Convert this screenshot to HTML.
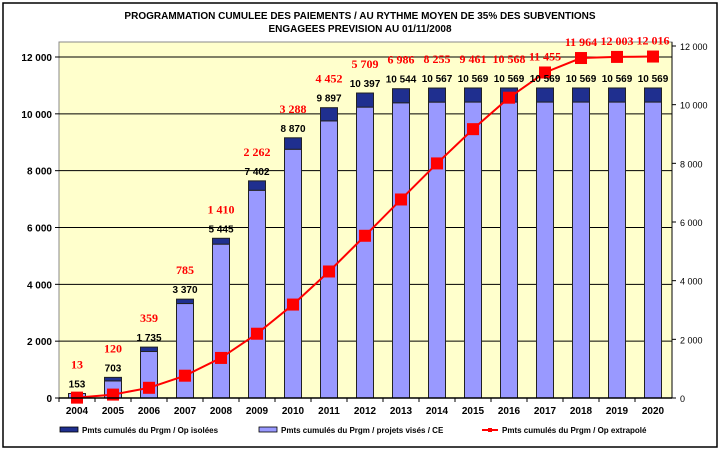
<!DOCTYPE html>
<html><head><meta charset="utf-8"><style>
body{margin:0;background:#fff}
svg{display:block;font-family:"Liberation Sans",Arial,sans-serif}
</style></head><body>
<svg id="chart" width="721" height="450">
<rect x="3" y="3" width="714" height="444" fill="#fff" stroke="#000" stroke-width="1.5"/>
<text x="360" y="19" text-anchor="middle" font-size="10" font-weight="bold">PROGRAMMATION CUMULEE DES PAIEMENTS / AU RYTHME MOYEN DE 35% DES SUBVENTIONS</text>
<text x="360" y="32" text-anchor="middle" font-size="10" font-weight="bold">ENGAGEES PREVISION AU 01/11/2008</text>
<rect x="59" y="42" width="613" height="356" fill="#FFFFCC" stroke="#888"/>
<g id="grid"></g><g id="bars"></g><g id="line"></g><g id="labels"></g><g id="axes"></g>
<g font-size="8" font-weight="bold">
<rect x="60" y="427" width="18" height="5" fill="#1F2F8F" stroke="#000" stroke-width="0.8"/>
<text x="82" y="433">Pmts cumulés du Prgm / Op isolées</text>
<rect x="259" y="427" width="18" height="5" fill="#9999FF" stroke="#000" stroke-width="0.8"/>
<text x="281" y="433">Pmts cumulés du Prgm / projets visés / CE</text>
<line x1="482" y1="430" x2="498" y2="430" stroke="red" stroke-width="2"/>
<rect x="488" y="428" width="4" height="4" fill="red"/>
<text x="502" y="433">Pmts cumulés du Prgm / Op extrapolé</text>
</g>
</svg>
<script>
const years=["2004","2005","2006","2007","2008","2009","2010","2011","2012","2013","2014","2015","2016","2017","2018","2019","2020"];
const totals=[153,703,1735,3370,5445,7402,8870,9897,10397,10544,10567,10569,10569,10569,10569,10569,10569];
const isolees=[0,120,150,150,200,320,390,450,480,480,480,480,480,480,480,480,480];
const extrapole=[13,120,359,785,1410,2262,3288,4452,5709,6986,8255,9461,10568,11455,11964,12003,12016];
const leftTicks=[0,2000,4000,6000,8000,10000,12000];
const rightTicks=[0,2000,4000,6000,8000,10000,12000];
const NS="http://www.w3.org/2000/svg";
const fmt=v=>String(v).replace(/\B(?=(\d{3})+(?!\d))/g," ");
const x=i=>77+36*i;
const y=v=>398-v*341/12000;
const yr=v=>398-v*352/12000;
function mk(tag,attrs,parent){const e=document.createElementNS(NS,tag);for(const k in attrs)e.setAttribute(k,attrs[k]);document.getElementById(parent).appendChild(e);return e;}
leftTicks.forEach(t=>{
 if(t>0){const g=mk("line",{x1:59,x2:672,y1:y(t),y2:y(t),stroke:"#000","stroke-width":1},"grid");
 
 }
 const l=mk("text",{x:52,y:y(t)+4,"text-anchor":"end","font-size":10,"font-weight":"bold"},"axes");l.textContent=fmt(t);
 
 
 const tk=mk("line",{x1:55,x2:59,y1:y(t),y2:y(t),stroke:"#000"},"axes");
 
 
});
rightTicks.forEach(t=>{
 const l=mk("text",{x:680,y:yr(t)+4,"font-size":9},"axes");l.textContent=fmt(t);
 
 
 const tk=mk("line",{x1:672,x2:676,y1:yr(t),y2:yr(t),stroke:"#000"},"axes");
 
 
});
const ax=mk("line",{x1:59,x2:672,y1:398,y2:398,stroke:"#000","stroke-width":1.5},"axes");


const ra=mk("line",{x1:672,x2:672,y1:42,y2:398,stroke:"#000"},"axes");


years.forEach((yy,i)=>{
 const tk=mk("line",{x1:x(i)-18,x2:x(i)-18,y1:398,y2:402,stroke:"#000"},"axes");
 
 
 const t=mk("text",{x:x(i),y:414,"text-anchor":"middle","font-size":10,"font-weight":"bold"},"axes");t.textContent=yy;
 
 
 const light=totals[i]-isolees[i];
 const b1=mk("rect",{x:x(i)-8.5,y:yr(light),width:17,height:398-yr(light),fill:"#9999FF",stroke:"#222","stroke-width":1},"bars");
 
 
 if(isolees[i]>0){const b2=mk("rect",{x:x(i)-8.5,y:yr(totals[i]),width:17,height:yr(light)-yr(totals[i]),fill:"#1F2F8F",stroke:"#222","stroke-width":1},"bars");
 
 }
 const by=yr(totals[i])-6;
 const bl=mk("text",{x:x(i),y:by,"text-anchor":"middle","font-size":10,"font-weight":"bold"},"labels");bl.textContent=fmt(totals[i]);
 
 
 const ry=Math.min(by-19,y(extrapole[i])-12);
 const rl=mk("text",{x:x(i),y:ry,"text-anchor":"middle","font-size":12,"font-weight":"bold",fill:"red","font-family":"Liberation Serif,serif"},"labels");rl.textContent=fmt(extrapole[i]);
 
 
});
const pl=mk("polyline",{points:extrapole.map((v,i)=>x(i)+","+y(v)).join(" "),fill:"none",stroke:"red","stroke-width":2},"line");


extrapole.forEach((v,i)=>{
 const m=mk("rect",{x:x(i)-6,y:y(v)-6,width:12,height:12,fill:"red"},"line");
 
 
});
</script>
</body></html>
